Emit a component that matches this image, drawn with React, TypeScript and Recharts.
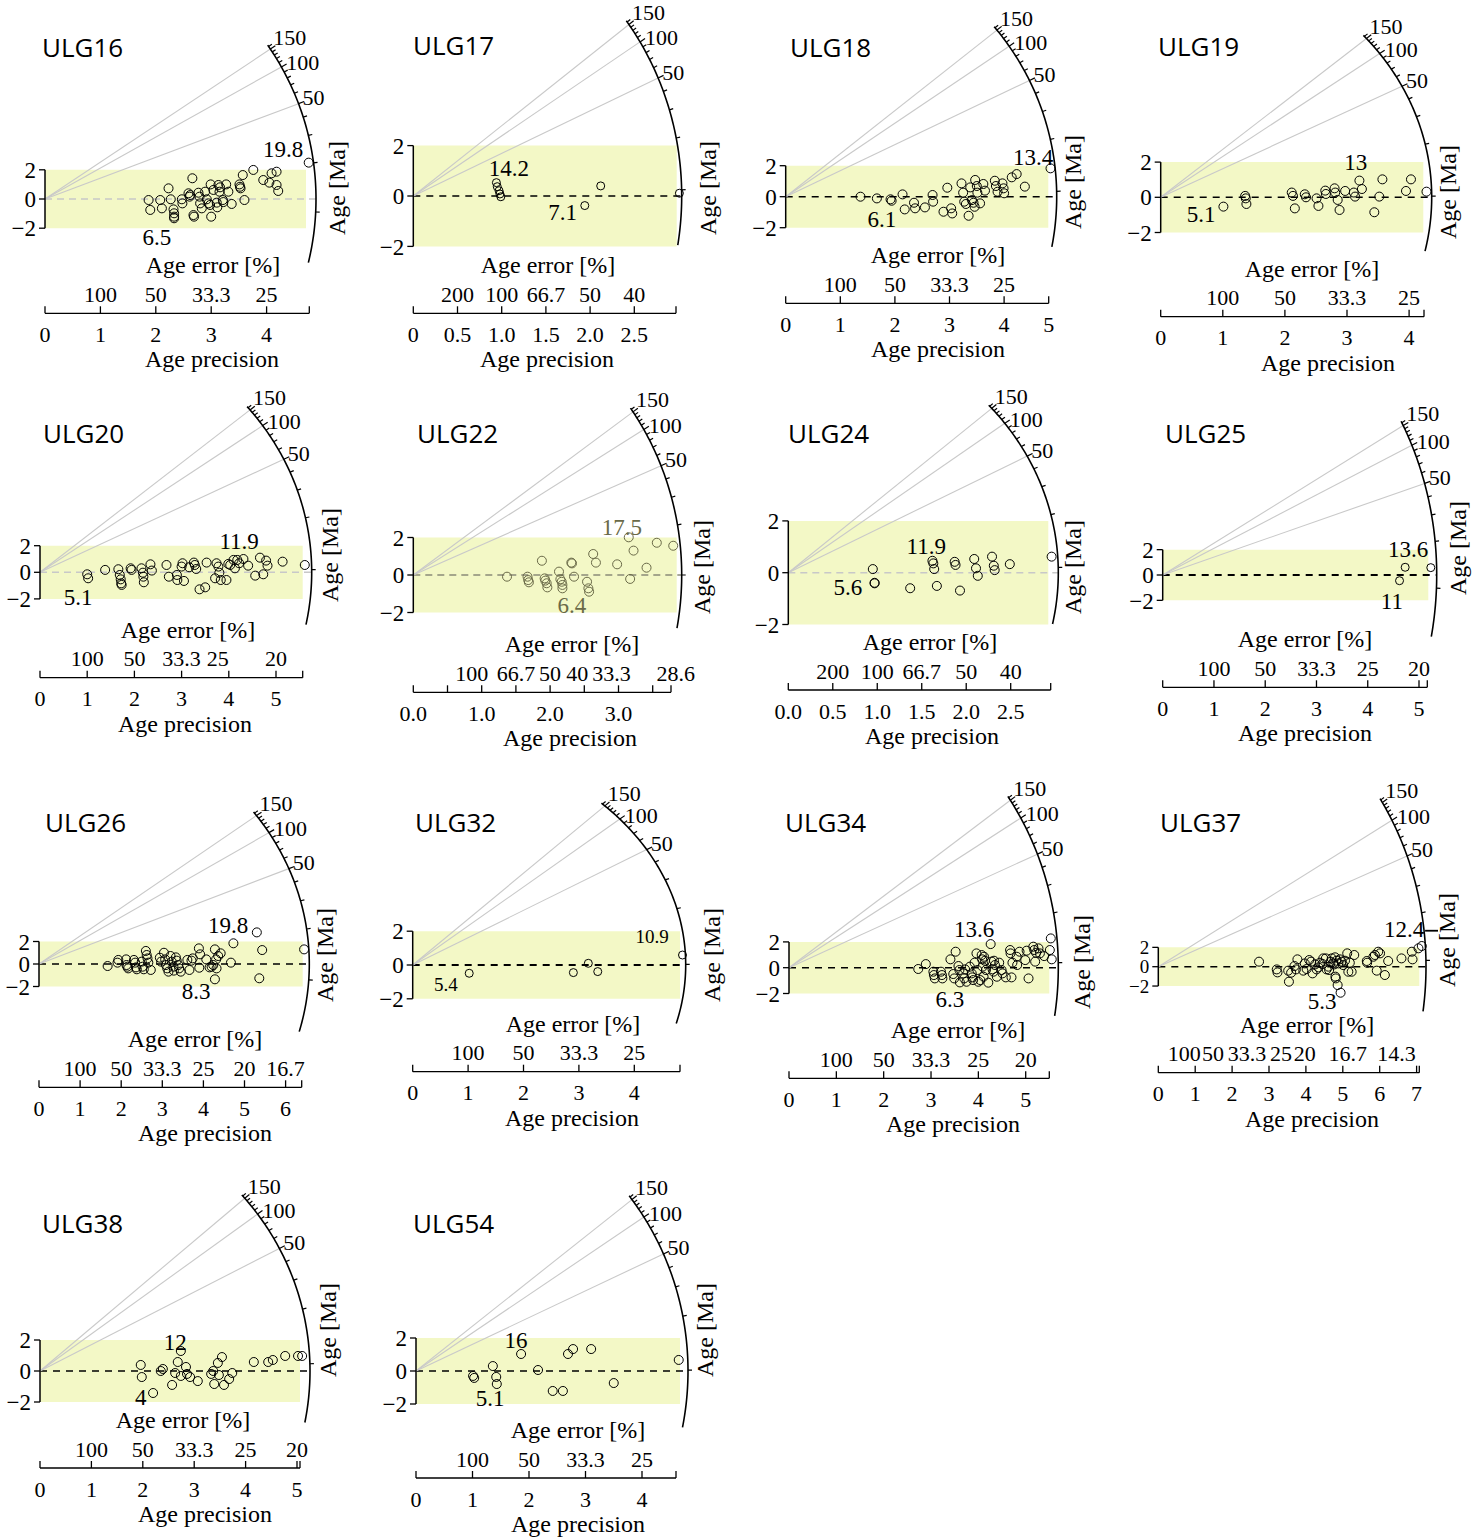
import React from "react";
import { ScatterChart, Scatter, XAxis, YAxis, ReferenceArea, ReferenceLine } from "recharts";

const SERIF = '"Liberation Serif", "Times New Roman", serif';
const SANS = '"Open Sans", "Noto Sans", sans-serif';
const BAND = "#f3f8c6";

type Pt = [number, number];
type Note = [string, number, number];

// ages marked on the arc
const ARC_TICKS = [10, 20, 30, 40, 50, 60, 70, 80, 90, 100, 110, 120, 130, 140, 150, 160];
const ARC_LABELS = [150, 100, 50];
const ARC_MIN = 4.8;
const ARC_MAX = 165;
const RAYS = [150, 100, 50];

// shared axis ticks / labels
const T4 = [0, 1, 2, 3, 4];
const T5 = [0, 1, 2, 3, 4, 5];
const L4 = ["0", "1", "2", "3", "4"];
const L5 = ["0", "1", "2", "3", "4", "5"];
const E4 = ["", "100", "50", "33.3", "25"];
const E5 = ["", "100", "50", "33.3", "25", "20"];
const THALF = [0, 0.5, 1, 1.5, 2, 2.5];
const EHALF = ["", "200", "100", "66.7", "50", "40"];

// [precision, standardised estimate]
const ULG16_PTS: Pt[] = [[1.87,-0.07],[1.9,-0.75],[2.08,-0.07],[2.11,-0.64],[2.23,0.73],[2.27,-0.02],[2.32,-0.71],[2.33,-0.98],[2.33,-1.21],[2.33,-1.32],[2.47,-0.02],[2.48,-0.3],[2.59,0.39],[2.61,0.16],[2.62,0.27],[2.66,1.42],[2.68,-1.1],[2.69,-1.21],[2.77,0.43],[2.79,0.16],[2.8,-0.3],[2.83,-0.64],[2.89,0.5],[2.92,-0.02],[2.95,-0.3],[2.98,-0.41],[2.99,1.0],[3.0,-1.21],[3.04,0.62],[3.1,-0.25],[3.11,-0.57],[3.13,0.96],[3.15,0.5],[3.16,0.8],[3.21,-0.07],[3.22,-0.21],[3.27,1.0],[3.31,0.5],[3.37,-0.34],[3.51,1.0],[3.52,0.84],[3.53,0.73],[3.57,1.64],[3.6,-0.07],[3.76,1.99],[3.94,1.3],[4.05,1.12],[4.09,1.76],[4.18,1.87],[4.18,0.96],[4.21,0.55],[4.76,2.49]];
const ULG17_PTS: Pt[] = [[0.94,0.53],[0.95,0.37],[0.97,0.21],[0.98,0.08],[0.99,-0.03],[1.94,-0.38],[2.12,0.4],[3.01,0.11]];
const ULG18_PTS: Pt[] = [[1.37,0],[1.67,-0.11],[1.92,-0.17],[1.94,-0.26],[2.14,0.15],[2.18,-0.82],[2.35,-0.39],[2.37,-0.75],[2.55,-0.69],[2.69,0.11],[2.7,-0.32],[2.89,-0.97],[2.96,0.58],[3.03,-0.75],[3.05,-1.08],[3.22,0.86],[3.25,0.26],[3.27,-0.32],[3.3,-0.47],[3.35,-1.23],[3.38,0.6],[3.41,-0.22],[3.44,-0.39],[3.46,-0.65],[3.47,1.08],[3.5,0.69],[3.51,0.26],[3.56,-0.43],[3.62,0.82],[3.65,0.39],[3.83,1.03],[3.85,0.69],[3.88,0.32],[3.97,0.86],[3.99,0.54],[4.0,0.22],[4.14,1.25],[4.23,1.46],[4.38,0.65],[4.85,1.83]];
const ULG19_PTS: Pt[] = [[1.01,-0.53],[1.36,0.08],[1.37,-0.06],[1.38,-0.38],[2.11,0.27],[2.13,0.08],[2.16,-0.63],[2.32,0.17],[2.34,0],[2.51,-0.06],[2.54,-0.49],[2.65,0.38],[2.66,0.19],[2.8,0.51],[2.81,0.27],[2.85,-0.15],[2.88,-0.72],[2.97,0.36],[3.11,0.27],[3.13,0.04],[3.2,0.95],[3.24,0.47],[3.44,-0.85],[3.52,0.04],[3.57,1.02],[3.95,0.36],[4.03,1.02],[4.28,0.32]];
const ULG20_PTS: Pt[] = [[1.0,-0.15],[1.02,-0.45],[1.38,0.18],[1.66,0.23],[1.69,-0.2],[1.71,-0.53],[1.72,-0.83],[1.73,-0.95],[1.92,0.3],[1.94,0.18],[2.15,0.3],[2.18,-0.03],[2.19,-0.33],[2.2,-0.75],[2.34,0.6],[2.37,0.13],[2.68,0.55],[2.73,-0.33],[2.9,-0.2],[2.91,-0.58],[3.0,0.43],[3.02,0.68],[3.05,-0.65],[3.16,0.38],[3.26,0.73],[3.28,0.55],[3.31,0.25],[3.38,-1.28],[3.5,-1.13],[3.53,0.73],[3.71,-0.45],[3.74,0.68],[3.78,0.43],[3.8,-0.03],[3.83,-0.58],[3.95,-0.58],[3.99,0.63],[4.03,0.55],[4.1,0.93],[4.13,0.3],[4.18,0.93],[4.22,0.68],[4.31,1.0],[4.41,0.5],[4.56,-0.25],[4.66,1.1],[4.73,-0.15],[4.79,0.88],[4.82,0.5],[5.14,0.8],[5.61,0.55]];
const ULG22_PTS: Pt[] = [[1.37,-0.09],[1.67,-0.09],[1.68,-0.27],[1.69,-0.39],[1.88,0.76],[1.92,-0.18],[1.93,-0.3],[1.95,-0.44],[1.96,-0.66],[2.13,0.18],[2.15,-0.23],[2.17,-0.36],[2.18,-0.53],[2.18,-0.71],[2.31,0.66],[2.32,0.62],[2.35,-0.09],[2.54,-0.36],[2.56,-0.71],[2.57,-0.89],[2.63,1.12],[2.67,0.66],[2.98,0.57],[3.15,2.01],[3.17,-0.21],[3.22,1.3],[3.41,0.39],[3.56,1.72],[3.8,1.56]];
const ULG24_PTS: Pt[] = [[0.95,0.14],[0.97,-0.39],[0.97,-0.41],[1.37,-0.6],[1.62,0.46],[1.63,0.36],[1.64,0.14],[1.67,-0.51],[1.87,0.42],[1.88,0.3],[1.93,-0.69],[2.09,0.53],[2.11,0.17],[2.13,-0.12],[2.29,0.62],[2.31,0.27],[2.32,0.1],[2.49,0.33],[2.96,0.62]];
const ULG25_PTS: Pt[] = [[4.62,-0.45],[4.73,0.61],[5.23,0.58]];
const ULG26_PTS: Pt[] = [[1.67,-0.18],[1.91,0.12],[1.93,0.36],[2.12,0.41],[2.13,-0.09],[2.15,-0.24],[2.17,-0.39],[2.31,0.36],[2.34,0.12],[2.36,-0.3],[2.38,-0.47],[2.5,0.21],[2.52,-0.24],[2.55,-0.47],[2.6,1.16],[2.62,0.8],[2.64,0.5],[2.66,0.12],[2.72,-0.53],[2.94,0.56],[2.97,0.21],[3.04,1.0],[3.07,0.41],[3.09,-0.09],[3.12,-0.39],[3.15,-0.68],[3.2,0.71],[3.23,0.21],[3.27,-0.24],[3.28,-0.59],[3.33,0.59],[3.35,0.3],[3.39,-0.09],[3.41,-0.39],[3.45,-0.68],[3.61,0.36],[3.66,-0.53],[3.71,0.3],[3.74,0.5],[3.89,1.39],[3.92,0.86],[3.9,-0.33],[4.07,0.41],[4.15,-0.3],[4.2,-0.24],[4.24,-0.09],[4.28,1.3],[4.31,0.41],[4.32,-0.39],[4.28,-1.36],[4.36,0.71],[4.42,0.95],[4.67,0.12],[4.73,1.84],[5.3,2.81],[5.36,-1.27],[5.43,1.24],[6.45,1.3]];
const ULG32_PTS: Pt[] = [[1.02,-0.49],[2.9,-0.45],[3.17,0.1],[3.34,-0.39],[4.87,0.59]];
const ULG34_PTS: Pt[] = [[2.73,-0.1],[2.89,0.28],[3.05,-0.31],[3.06,-0.57],[3.08,-0.83],[3.21,-0.31],[3.23,-0.57],[3.24,-0.83],[3.41,0.65],[3.47,-0.49],[3.49,-0.83],[3.52,1.24],[3.58,0.13],[3.6,-0.18],[3.61,-1.14],[3.68,-0.44],[3.7,-0.83],[3.72,-0.13],[3.75,-1.09],[3.82,0.08],[3.86,-0.44],[3.87,-0.75],[3.89,-0.96],[3.92,0.39],[3.96,1.11],[3.98,-0.18],[4.0,-1.09],[4.04,-0.96],[4.07,0.98],[4.08,0.65],[4.09,0.08],[4.11,-0.7],[4.12,0.85],[4.14,0.54],[4.16,-0.18],[4.21,-1.16],[4.26,1.83],[4.28,0.47],[4.3,-0.13],[4.32,-0.31],[4.33,0.54],[4.35,0.21],[4.39,-0.7],[4.44,0.39],[4.49,-0.18],[4.51,-0.44],[4.58,-0.75],[4.67,1.37],[4.68,1.11],[4.7,-0.75],[4.72,0.39],[4.81,0.85],[4.82,0.21],[4.87,1.24],[4.99,0.59],[5.02,1.32],[5.06,-0.83],[5.16,1.63],[5.18,1.37],[5.2,0.47],[5.22,1.16],[5.27,1.5],[5.3,1.11],[5.39,0.9],[5.51,1.37],[5.53,2.27],[5.55,0.65]];
const ULG37_PTS: Pt[] = [[2.73,0.52],[3.21,-0.28],[3.23,-0.59],[3.52,-0.41],[3.54,-1.55],[3.6,-0.62],[3.69,0.07],[3.73,-0.28],[3.77,0.76],[3.93,-0.41],[3.97,0.34],[4.02,-0.24],[4.09,0.69],[4.14,0.52],[4.18,-0.69],[4.25,0.24],[4.29,-0.28],[4.34,-0.07],[4.38,0.41],[4.45,0.28],[4.47,0.86],[4.54,0.86],[4.56,-0.28],[4.61,0],[4.63,-0.34],[4.67,0.52],[4.7,0.86],[4.74,0.34],[4.77,0.24],[4.79,0.97],[4.8,-1.03],[4.81,-1.21],[4.83,0.62],[4.86,-1.9],[4.88,0.34],[4.92,0.76],[4.94,-2.69],[4.97,0.52],[5.01,0.17],[5.06,0.62],[5.12,1.38],[5.15,-0.52],[5.19,0.41],[5.24,-0.52],[5.31,1.21],[5.65,0.59],[5.66,0.41],[5.83,1.03],[5.87,1.21],[5.92,-0.41],[5.96,1.55],[6.01,1.38],[6.23,0.59],[6.14,-0.86],[6.59,0.86],[6.87,1.55],[6.89,0.76],[7.05,1.9],[7.14,2.14]];
const ULG38_PTS: Pt[] = [[1.96,0.39],[1.98,-0.39],[2.2,-1.42],[2.35,0],[2.39,0.13],[2.57,-0.9],[2.63,-0.13],[2.68,0.58],[2.74,1.29],[2.74,-0.32],[2.84,0.26],[2.86,-0.19],[2.92,-0.39],[3.07,-0.65],[3.33,-0.19],[3.37,0],[3.39,-0.84],[3.46,0.52],[3.48,-0.26],[3.54,0.9],[3.58,-0.9],[3.68,-0.52],[3.74,-0.13],[4.16,0.58],[4.44,0.58],[4.53,0.71],[4.77,0.97],[5.02,0.97],[5.1,0.97]];
const ULG54_PTS: Pt[] = [[1.01,-0.3],[1.03,-0.42],[1.36,0.3],[1.42,-0.36],[1.43,-0.79],[1.86,1.03],[2.16,0.06],[2.42,-1.21],[2.6,-1.21],[2.69,1.03],[2.78,1.33],[3.1,1.33],[3.5,-0.73],[4.65,0.67]];

interface PanelDef {
  name: string; pts: Pt[]; t0: number; notes: Note[];
  ticks: number[]; prec: string[]; err: string[]; errDx?: number[]; endLabel?: string; rays?: number[];
  box: [number, number, number, number]; o: [number, number]; s: [number, number];
  axisEnd: number; axisY: number; bandEnd: number; ab: [number, number];
  title: [number, number]; errX: number; precX: number; age: [number, number];
  dash: string; dashW?: number; r?: number; ptColor?: string; noteColor?: string; noteSize?: number; seg?: Pt[];
  yFont?: number;
}

const PANELS: PanelDef[] = [
  { name: "ULG16", pts: ULG16_PTS, t0: 12.0, notes: [["19.8", 4.3, 3.36], ["6.5", 2.02, -2.67]],
    ticks: T4, prec: L4, err: E4,
    box: [0, 0, 372, 380], o: [45, 199], s: [55.4, 14.6], axisEnd: 309.3, axisY: 313.3, bandEnd: 306, ab: [271, 270],
    title: [42, 57], errX: 213, precX: 212, age: [337, 188], dash: "#c8c8c8" },
  { name: "ULG17", pts: ULG17_PTS, t0: 9.22, notes: [["14.2", 1.08, 1.11], ["7.1", 1.69, -0.67]],
    ticks: THALF, prec: ["0", "0.5", "1.0", "1.5", "2.0", "2.5"], err: EHALF,
    box: [370, 0, 372, 380], o: [413.3, 196], s: [88.4, 25.2], axisEnd: 676, axisY: 313.3, bandEnd: 676.7, ab: [268.4, 288],
    title: [413, 55], errX: 548, precX: 547, age: [708, 188], dash: "#000", r: 4 },
  { name: "ULG18", pts: ULG18_PTS, t0: 9.32, notes: [["13.4", 4.53, 2.5], ["6.1", 1.76, -1.5]],
    ticks: T4, prec: L4, err: E4, endLabel: "5",
    box: [740, 0, 372, 380], o: [785.7, 196.7], s: [54.6, 15.5], axisEnd: 1048.7, axisY: 303.3, bandEnd: 1048.3, ab: [271, 266],
    title: [790, 57], errX: 938, precX: 938, age: [1073, 182], dash: "#000" },
  { name: "ULG19", pts: ULG19_PTS, t0: 9.85, notes: [["13", 3.14, 1.95], ["5.1", 0.65, -1.0]],
    ticks: T4, prec: L4, err: E4,
    box: [1110, 0, 373, 380], o: [1160.7, 197.3], s: [62.1, 17.6], axisEnd: 1424, axisY: 316.7, bandEnd: 1423.3, ab: [271, 244],
    title: [1158, 56], errX: 1312, precX: 1328, age: [1448, 192], dash: "#000" },
  { name: "ULG20", pts: ULG20_PTS, t0: 9.65, notes: [["11.9", 4.22, 2.28], ["5.1", 0.81, -1.86]],
    ticks: T5, prec: L5, err: E5, errDx: [0, 0, 0, 0, -11, 0],
    box: [0, 380, 372, 390], o: [40, 572.3], s: [47.2, 13.3], axisEnd: 302.7, axisY: 677.7, bandEnd: 302.7, ab: [271.7, 256],
    title: [43, 443], errX: 188, precX: 185, age: [330, 555], dash: "#c8c8c8" },
  { name: "ULG22", pts: ULG22_PTS, t0: 10.0, notes: [["17.5", 3.05, 2.56], ["6.4", 2.32, -1.65]],
    ticks: [0, 0.5, 1, 1.5, 2, 2.5, 3, 3.5], prec: ["0.0", "", "1.0", "", "2.0", "", "3.0", ""],
    err: ["", "", "100", "66.7", "50", "40", "33.3", "28.6"], errDx: [0, 0, -10, 0, 0, -7, -7, 23],
    box: [370, 380, 372, 390], o: [413.3, 575], s: [68.4, 18.75], axisEnd: 671, axisY: 692.3, bandEnd: 676.7, ab: [268.4, 284],
    title: [417, 443], errX: 572, precX: 570, age: [702, 567], dash: "#8a8a78", ptColor: "#6a6a48", noteColor: "#6a6a48" },
  { name: "ULG24", pts: ULG24_PTS, t0: 9.35, notes: [["11.9", 1.55, 1.03], ["5.6", 0.67, -0.59]],
    ticks: THALF, prec: ["0.0", "0.5", "1.0", "1.5", "2.0", "2.5"], err: EHALF,
    box: [740, 380, 372, 390], o: [788.3, 572.7], s: [88.96, 25.9], axisEnd: 1050.7, axisY: 690, bandEnd: 1048.3, ab: [270, 250],
    title: [788, 443], errX: 930, precX: 932, age: [1073, 567], dash: "#c8c8c8" },
  { name: "ULG25", pts: ULG25_PTS, t0: 12.15, notes: [["13.6", 4.79, 2.05], ["11", 4.47, -2.13]],
    ticks: T5, prec: L5, err: E5,
    box: [1110, 380, 373, 390], o: [1162.7, 575], s: [51.26, 12.67], axisEnd: 1427.3, axisY: 687.3, bandEnd: 1428.3, ab: [274, 312],
    title: [1165, 443], errX: 1305, precX: 1305, age: [1458, 548], dash: "#000", dashW: 2, r: 4 },
  { name: "ULG26", pts: ULG26_PTS, t0: 12.4, notes: [["19.8", 4.6, 3.38], ["8.3", 3.82, -2.4]],
    ticks: [0, 1, 2, 3, 4, 5, 6], prec: ["0", "1", "2", "3", "4", "5", "6"], err: ["", "100", "50", "33.3", "25", "20", "16.7"],
    box: [0, 770, 372, 380], o: [39, 964], s: [41.1, 11.25], axisEnd: 301.7, axisY: 1087.3, bandEnd: 302.7, ab: [270.3, 250],
    title: [45, 832], errX: 195, precX: 205, age: [325, 955], dash: "#000" },
  { name: "ULG32", pts: ULG32_PTS, t0: 9.93, notes: [["10.9", 4.32, 1.66], ["5.4", 0.6, -1.18]],
    ticks: T4, prec: L4, err: E4,
    box: [370, 770, 372, 380], o: [412.7, 965], s: [55.4, 16.9], axisEnd: 680, axisY: 1071.7, bandEnd: 680, ab: [273, 224],
    title: [415, 832], errX: 573, precX: 572, age: [712, 955], dash: "#000", dashW: 2, r: 4, noteSize: 19 },
  { name: "ULG34", pts: ULG34_PTS, t0: 9.34, notes: [["13.6", 3.91, 3.0], ["6.3", 3.4, -2.43]],
    ticks: T5, prec: L5, err: E5,
    box: [740, 770, 372, 380], o: [789, 967.7], s: [47.34, 12.9], axisEnd: 1049.3, axisY: 1078.3, bandEnd: 1049.3, ab: [269.3, 294],
    title: [785, 832], errX: 958, precX: 953, age: [1082, 962], dash: "#000" },
  { name: "ULG37", pts: ULG37_PTS, t0: 9.15, notes: [["12.4", 6.66, 3.8], ["5.3", 4.44, -3.65]], rays: [100, 50],
    ticks: [0, 1, 2, 3, 4, 5, 6, 7], prec: ["0", "1", "2", "3", "4", "5", "6", "7"],
    err: ["", "100", "50", "33.3", "25", "20", "16.7", "14.3"], errDx: [0, -11, -19, -22, -25, -38, -32, -20],
    box: [1110, 770, 373, 380], o: [1158.3, 966.7], s: [36.9, 9.67], axisEnd: 1419.3, axisY: 1072.7, bandEnd: 1419.3, ab: [267.7, 300],
    title: [1160, 832], errX: 1307, precX: 1312, age: [1447, 940], dash: "#000", seg: [[7.23, 3.72], [7.58, 3.72]], yFont: 19 },
  { name: "ULG38", pts: ULG38_PTS, t0: 9.15, notes: [["12", 2.63, 1.87], ["4", 1.96, -1.68]],
    ticks: T5, prec: L5, err: E5,
    box: [0, 1150, 372, 388], o: [40, 1371], s: [51.4, 15.5], axisEnd: 300, axisY: 1468, bandEnd: 300, ab: [270, 265],
    title: [42, 1233], errX: 183, precX: 205, age: [328, 1330], dash: "#000" },
  { name: "ULG54", pts: ULG54_PTS, t0: 9.9, notes: [["16", 1.77, 1.82], ["5.1", 1.31, -1.64]],
    ticks: T4, prec: L4, err: E4,
    box: [370, 1150, 372, 388], o: [416, 1371], s: [56.5, 16.5], axisEnd: 676, axisY: 1478, bandEnd: 680, ab: [272, 282],
    title: [413, 1233], errX: 578, precX: 578, age: [705, 1330], dash: "#000" },
];

// label offsets (px) next to the arc, per labelled age
const LABEL_OFF: Record<number, [number, number]> = { 150: [3, -12], 100: [5, -4], 50: [4, -6] };

const YW = 36;
const XH = 60;

function RadialPanel({ p }: { p: PanelDef }) {
  const [left, top, w, h] = p.box;
  const [ox, oy] = p.o;
  const [sx, sy] = p.s;
  const [a, b] = p.ab;
  const xEnd = (p.axisEnd - ox) / sx;
  const xMax = (left + w - ox) / sx;
  const yHi = (oy - top) / sy;
  const yLo = -(p.axisY - oy) / sy;

  // point of the age arc for age t (ellipse in pixel space, centred on the origin)
  const arcPt = (t: number) => {
    const d = Math.log(t / p.t0);
    const lam = 1 / Math.sqrt((sx / a) ** 2 + ((sy * d) / b) ** 2);
    return { x: lam, y: lam * d };
  };

  const arc = [] as { x: number; y: number }[];
  for (let i = 0; i <= 90; i++) arc.push(arcPt(ARC_MIN * Math.pow(ARC_MAX / ARC_MIN, i / 90)));

  const arcTicks = ARC_TICKS.filter((t) => t >= ARC_MIN && t <= ARC_MAX).map((t) => {
    const q = arcPt(t);
    const vx = q.x * sx, vy = q.y * sy;
    const n = Math.hypot(vx, vy);
    return { ...q, ux: vx / n, uy: vy / n, len: ARC_LABELS.includes(t) ? 6 : 4 };
  });
  const arcLabels = ARC_LABELS.map((t) => ({ ...arcPt(t), text: String(t), dx: LABEL_OFF[t][0], dy: LABEL_OFF[t][1] }));
  const pts = p.pts.map(([x, y]) => ({ x, y }));
  const notes = p.notes.map(([text, x, y]) => ({ x, y, text }));
  const allTicks = [...p.ticks, xEnd];

  const tickRender = (props: any) => {
    const { x, y, payload } = props;
    const i = p.ticks.indexOf(payload.value);
    const prec = i < 0 ? p.endLabel || "" : p.prec[i];
    const err = i < 0 ? "" : p.err[i];
    const dx = i >= 0 && p.errDx ? p.errDx[i] : 0;
    return (
      <g>
        <line x1={x} x2={x} y1={y} y2={y - 7} stroke="#000" strokeWidth={1.3} />
        {prec && (
          <text x={x} y={y + 21} textAnchor="middle" dominantBaseline="central" fontSize={22} fontFamily={SERIF} fill="#000">{prec}</text>
        )}
        {err && (
          <text x={x + dx} y={y - 19} textAnchor="middle" dominantBaseline="central" fontSize={22} fontFamily={SERIF} fill="#000">{err}</text>
        )}
      </g>
    );
  };

  const dashArr = p.dash === "#000" ? "7 6" : "7 5";

  return (
    <div style={{ position: "absolute", left, top, width: w, height: h }}>
      <ScatterChart
        width={w}
        height={h}
        margin={{ top: 0, right: 0, left: ox - left - YW, bottom: top + h - p.axisY - XH }}
      >
        <XAxis type="number" dataKey="x" domain={[0, xMax]} allowDataOverflow ticks={allTicks} interval={0}
          tickSize={0} tickMargin={0} tickLine={false} axisLine={false} height={XH} tick={tickRender} />
        <YAxis type="number" dataKey="y" domain={[yLo, yHi]} allowDataOverflow ticks={[-2, 0, 2]} interval={0}
          width={YW} tickSize={6} tickMargin={3} axisLine={false}
          tickLine={{ stroke: "#000", strokeWidth: 1.3 }}
          tick={{ fontSize: p.yFont || 23, fontFamily: SERIF, fill: "#000" }}
          tickFormatter={(v: number) => (v < 0 ? `\u2212${-v}` : `${v}`)} />
        <ReferenceArea x1={0} x2={(p.bandEnd - ox) / sx} y1={-2} y2={2} fill={BAND} fillOpacity={1} stroke="none" ifOverflow="visible" />
        <ReferenceLine segment={[{ x: 0, y: 0 }, { x: a / sx, y: 0 }]} stroke={p.dash} strokeWidth={p.dashW || 1.4}
          strokeDasharray={dashArr} ifOverflow="visible" />
        {(p.rays || RAYS).map((t) => (
          <ReferenceLine key={t} segment={[{ x: 0, y: 0 }, arcPt(t)]} stroke="#c9c9c9" strokeWidth={1.1} ifOverflow="visible" />
        ))}
        <ReferenceLine segment={[{ x: 0, y: -2 }, { x: 0, y: 2 }]} stroke="#000" strokeWidth={1.5} ifOverflow="visible" />
        <ReferenceLine segment={[{ x: 0, y: yLo }, { x: xEnd, y: yLo }]} stroke="#000" strokeWidth={1.3} ifOverflow="visible" />
        {p.seg && (
          <ReferenceLine segment={p.seg.map(([x, y]) => ({ x, y }))} stroke="#000" strokeWidth={1.8} ifOverflow="visible" />
        )}
        <Scatter data={arc} dataKey="y" line={{ stroke: "#000", strokeWidth: 1.6 }} lineType="joint"
          shape={() => <g />} isAnimationActive={false} />
        <Scatter data={arcTicks} dataKey="y" isAnimationActive={false}
          shape={(s: any) => (
            <line x1={s.cx} y1={s.cy} x2={s.cx + s.payload.ux * s.payload.len} y2={s.cy - s.payload.uy * s.payload.len}
              stroke="#000" strokeWidth={1.2} />
          )} />
        <Scatter data={pts} dataKey="y" isAnimationActive={false}
          shape={(s: any) => (
            <circle cx={s.cx} cy={s.cy} r={p.r || 4.5} fill="none" stroke={p.ptColor || "#000"} strokeWidth={1} />
          )} />
        <Scatter data={arcLabels} dataKey="y" isAnimationActive={false}
          shape={(s: any) => (
            <text x={s.cx + s.payload.dx} y={s.cy + s.payload.dy} dominantBaseline="central" fontSize={22} fontFamily={SERIF} fill="#000">
              {s.payload.text}
            </text>
          )} />
        <Scatter data={notes} dataKey="y" isAnimationActive={false}
          shape={(s: any) => (
            <text x={s.cx} y={s.cy} textAnchor="middle" dominantBaseline="central" fontSize={p.noteSize || 23}
              fontFamily={SERIF} fill={p.noteColor || "#000"}>
              {s.payload.text}
            </text>
          )} />
      </ScatterChart>
    </div>
  );
}

export default function App() {
  return (
    <div style={{ position: "absolute", left: 0, top: 0, width: 1483, height: 1538, background: "#fff" }}>
      {PANELS.map((p) => (
        <RadialPanel key={p.name} p={p} />
      ))}
      <svg width={1483} height={1538} style={{ position: "absolute", left: 0, top: 0, pointerEvents: "none" }}>
        {PANELS.map((p) => (
          <g key={p.name}>
            <text x={p.title[0]} y={p.title[1]} fontFamily={SANS} fontSize={26} fill="#000">{p.name}</text>
            <text x={p.errX} y={p.axisY - 48} textAnchor="middle" dominantBaseline="central" fontFamily={SERIF} fontSize={24} fill="#000">
              Age error [%]
            </text>
            <text x={p.precX} y={p.axisY + 46} textAnchor="middle" dominantBaseline="central" fontFamily={SERIF} fontSize={24} fill="#000">
              Age precision
            </text>
            <text transform={`translate(${p.age[0]},${p.age[1]}) rotate(-90)`} textAnchor="middle" dominantBaseline="central"
              fontFamily={SERIF} fontSize={24} fill="#000">
              Age [Ma]
            </text>
          </g>
        ))}
      </svg>
    </div>
  );
}
